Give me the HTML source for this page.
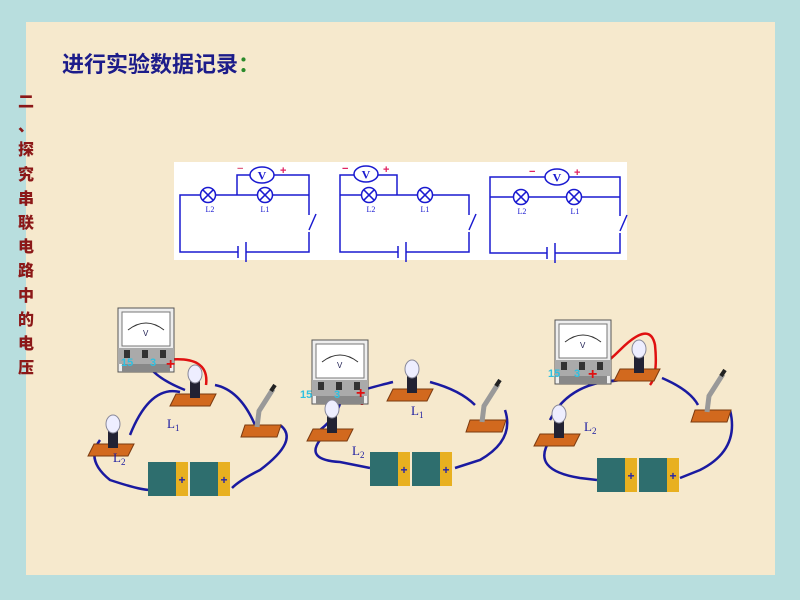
<!DOCTYPE html>
<html><head><meta charset="utf-8"><style>
html,body{margin:0;padding:0}
body{width:800px;height:600px;background:#b8dede;position:relative;overflow:hidden;font-family:"Liberation Sans","Noto Sans CJK SC",sans-serif}
#in{position:absolute;left:26px;top:22px;width:749px;height:553px;background:#f6e9cd}
#t{position:absolute;left:62px;top:47px;font-size:22px;font-weight:bold;color:#1c1c8a;font-family:"Liberation Sans","Noto Sans CJK SC",sans-serif}
#t span{color:#2a8a2a}
#v{position:absolute;left:15px;top:91px;width:22px;color:#8b1818;font-size:16px;font-weight:900;line-height:24.2px;text-align:center;font-family:"Liberation Sans","Noto Sans CJK SC",sans-serif}
svg{position:absolute;left:0;top:0}
</style></head><body>
<div id="in"></div>
<div id="t">进行实验数据记录<span>：</span></div>
<div id="v">二<br>、<br>探<br>究<br>串<br>联<br>电<br>路<br>中<br>的<br>电<br>压</div>
<svg width="800" height="600" viewBox="0 0 800 600">
<defs>
<g id="lamp"><circle r="7.5" fill="#fff" stroke="#1a1ad0" stroke-width="1.5"/><path d="M-5.3,-5.3L5.3,5.3M5.3,-5.3L-5.3,5.3" stroke="#1a1ad0" stroke-width="1.5"/></g>
<g id="vm"><ellipse rx="12" ry="8" fill="#fff" stroke="#1a1ad0" stroke-width="1.5"/><text y="4.5" text-anchor="middle" font-size="12" font-weight="bold" fill="#1a1ad0" font-family="Liberation Serif">V</text></g>
<g id="meter"><rect x="0" y="0" width="56" height="64" fill="#eee" stroke="#555"/><rect x="4" y="4" width="48" height="34" fill="#fff" stroke="#777"/><path d="M10,22 Q28,8 46,22" fill="none" stroke="#333"/><text x="25" y="28" font-size="8" fill="#225">V</text><rect x="0" y="40" width="56" height="16" fill="#aaa"/><rect x="6" y="42" width="6" height="8" fill="#333"/><rect x="24" y="42" width="6" height="8" fill="#333"/><rect x="42" y="42" width="6" height="8" fill="#333"/><rect x="4" y="56" width="48" height="8" fill="#888"/></g>
<g id="bulb"><path d="M0,24 L40,24 L34,36 L-6,36Z" fill="#d2691e" stroke="#7a3a10"/><rect x="14" y="10" width="10" height="18" fill="#223"/><ellipse cx="19" cy="4" rx="7" ry="9" fill="#eef" stroke="#889"/></g>
<g id="sw"><path d="M0,40 L36,40 L32,52 L-4,52Z" fill="#d2691e" stroke="#7a3a10"/><path d="M12,42 L14,26 L28,4" stroke="#999" stroke-width="5" fill="none"/><path d="M26,6 L30,0" stroke="#222" stroke-width="4"/></g>
<g id="bat"><rect x="0" y="0" width="40" height="34" fill="#2e6e6e"/><rect x="28" y="0" width="12" height="34" fill="#e8b020"/><text x="34" y="22" font-size="12" fill="#22a" text-anchor="middle" font-weight="bold">+</text><rect x="42" y="0" width="40" height="34" fill="#2e6e6e"/><rect x="70" y="0" width="12" height="34" fill="#e8b020"/><text x="76" y="22" font-size="12" fill="#22a" text-anchor="middle" font-weight="bold">+</text></g>
</defs>
<rect x="174" y="162" width="453" height="98" fill="#fff"/>
<g fill="none" stroke="#1a1ad0" stroke-width="1.5">
<path d="M200,195H180V252H238M246,252H309V232M309,215V195H273M257,195H237M237,195V175H250M274,175H309V195M215,195H237"/>
<path d="M238,246V258M246,242V262"/>
<path d="M309,230L316,214"/>
<path d="M361,195H340V252H398M406,252H469V232M469,215V195H433M417,195H376M340,195V175H354M378,175H397V195"/>
<path d="M398,246V258M406,242V262"/><path d="M469,230L476,214"/>
<path d="M513,197H490V253H547M555,253H620V233M620,216V197H582M566,197H528M490,197V177H545M569,177H620V197"/>
<path d="M547,247V259M555,243V263"/><path d="M620,231L627,215"/>
</g>
<use href="#lamp" x="208" y="195"/><use href="#lamp" x="265" y="195"/><use href="#vm" x="262" y="175"/>
<use href="#lamp" x="369" y="195"/><use href="#lamp" x="425" y="195"/><use href="#vm" x="366" y="174"/>
<use href="#lamp" x="521" y="197"/><use href="#lamp" x="574" y="197"/><use href="#vm" x="557" y="177"/>
<g font-size="8" fill="#1a1ad0" font-family="Liberation Serif" text-anchor="middle">
<text x="210" y="212">L2</text><text x="265" y="212">L1</text><text x="371" y="212">L2</text><text x="425" y="212">L1</text><text x="522" y="214">L2</text><text x="575" y="214">L1</text></g>
<g fill="#e02060" font-size="11" font-weight="bold"><text x="280" y="174">+</text><text x="383" y="173">+</text><text x="574" y="176">+</text><text x="342" y="172">−</text><text x="529" y="175">−</text><text x="237" y="172" fill="#e06080">−</text></g>
<g fill="none" stroke="#1a1aa0" stroke-width="2.5">
<path d="M150,368 Q160,380 185,390"/>
<path d="M180,392 Q150,385 130,435 M215,385 Q240,390 255,425 M280,425 Q300,440 260,470 Q240,480 232,488 M100,440 Q85,460 110,480 Q140,490 150,490"/>
<path d="M340,390 Q345,410 320,430 M345,395 Q380,385 393,382 M430,382 Q460,390 475,405 M505,410 Q515,440 480,460 L455,468 M320,440 Q305,460 340,462 L370,468"/>
<path d="M576,378 Q610,385 625,378 M626,380 Q570,380 550,420 M662,378 Q690,390 698,405 M730,410 Q740,450 700,470 L680,478 M550,440 Q530,470 580,478 L597,480"/>
</g>
<g fill="none" stroke="#e01010" stroke-width="2.5"><path d="M166,360 Q210,355 206,385"/><path d="M360,385 Q362,395 362,405"/><path d="M595,372 Q610,360 620,350 Q650,320 655,345 Q658,375 650,385"/></g>
<use href="#meter" x="118" y="308"/><use href="#bulb" x="176" y="370"/><use href="#sw" x="245" y="385"/><use href="#bulb" x="94" y="420"/><use href="#bat" x="148" y="462"/>
<use href="#meter" x="312" y="340"/><use href="#bulb" x="393" y="365"/><use href="#bulb" x="313" y="405"/><use href="#sw" x="470" y="380"/><use href="#bat" x="370" y="452"/>
<use href="#meter" x="555" y="320"/><use href="#bulb" x="620" y="345"/><use href="#bulb" x="540" y="410"/><use href="#sw" x="695" y="370"/><use href="#bat" x="597" y="458"/>
<g font-family="Liberation Serif" fill="#1a1aa0" font-size="13"><text x="167" y="428">L<tspan font-size="9" dy="3">1</tspan></text><text x="113" y="462">L<tspan font-size="9" dy="3">2</tspan></text><text x="411" y="415">L<tspan font-size="9" dy="3">1</tspan></text><text x="352" y="455">L<tspan font-size="9" dy="3">2</tspan></text><text x="584" y="431">L<tspan font-size="9" dy="3">2</tspan></text></g>
<g font-size="11" font-weight="bold" fill="#30c0e0"><text x="121" y="366">15</text><text x="150" y="366">3</text><text x="300" y="398">15</text><text x="334" y="398">3</text><text x="548" y="377">15</text><text x="574" y="377">3</text></g>
<g font-size="16" font-weight="bold" fill="#e01010"><text x="166" y="369">+</text><text x="356" y="398">+</text><text x="588" y="379">+</text></g>
</svg>
</body></html>
